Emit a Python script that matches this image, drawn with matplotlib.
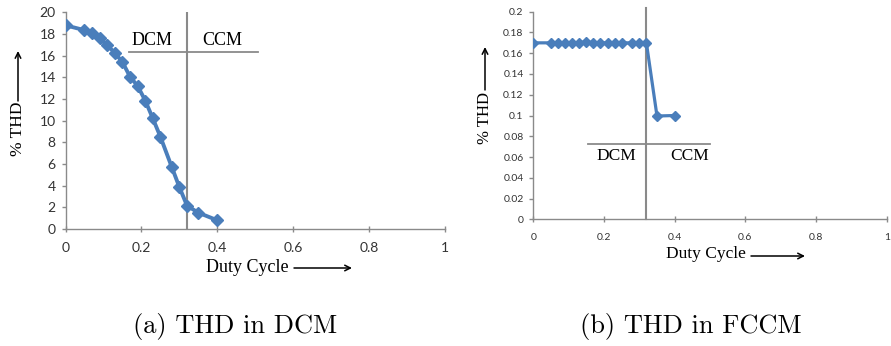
import matplotlib
matplotlib.use("Agg")
from matplotlib import pyplot as plt

# data
duty = [0.0, 0.05, 0.07, 0.09, 0.11, 0.13, 0.15, 0.17, 0.19, 0.21,
        0.23, 0.25, 0.28, 0.30, 0.32, 0.35, 0.40]
thd_dcm = [18.8, 18.35, 18.05, 17.6, 16.95, 16.25, 15.4, 14.05, 13.2, 11.85,
           10.2, 8.5, 5.7, 3.85, 2.15, 1.5, 0.8]
thd_fccm = [0.17, 0.17, 0.17, 0.17, 0.17, 0.17, 0.171, 0.17, 0.17, 0.17,
            0.17, 0.17, 0.17, 0.17, 0.17, 0.0995, 0.1]

x_ticks = [0, 0.2, 0.4, 0.6, 0.8, 1]
x_labels = ["0", "0.2", "0.4", "0.6", "0.8", "1"]
y_ticks_a = [0, 2, 4, 6, 8, 10, 12, 14, 16, 18, 20]
y_ticks_b = [0, 0.02, 0.04, 0.06, 0.08, 0.1, 0.12, 0.14, 0.16, 0.18, 0.2]
y_labels_b = ["0", "0.02", "0.04", "0.06", "0.08", "0.1", "0.12", "0.14",
              "0.16", "0.18", "0.2"]
boundary = 0.32

W, H = 891, 346
BLUE = "#4a7ebb"
GREY = "#8a8a8a"
SERIF = "Liberation Serif"
TICKFONT = "Lato"

fig = plt.figure(figsize=(W / 100, H / 100), dpi=100)


def px(x, y):
    return (x / W, 1 - y / H)


def style(ax, tick_size, xpad):
    for s in ["top", "right"]:
        ax.spines[s].set_visible(False)
    for s in ["left", "bottom"]:
        ax.spines[s].set_color(GREY)
        ax.spines[s].set_linewidth(1.0)
    ax.tick_params(length=3, width=1.0, color=GREY,
                   labelsize=tick_size, labelcolor="#333333")
    ax.tick_params(axis="x", direction="inout", length=5, pad=xpad)
    ax.tick_params(axis="y", direction="out", pad=4)
    for lab in ax.get_xticklabels() + ax.get_yticklabels():
        lab.set_family(TICKFONT)


def arrow(x0, y0, x1, y1):
    fig.add_artist(plt.Annotation("", xy=px(x1, y1), xytext=px(x0, y0),
                                  xycoords="figure fraction",
                                  textcoords="figure fraction",
                                  arrowprops=dict(arrowstyle="->", lw=1.1,
                                                  color="black",
                                                  shrinkA=0, shrinkB=0)))


# (a) THD in DCM
ax1 = fig.add_axes([65.5 / W, (H - 229) / H, 379.8 / W, 216.7 / H])
ax1.plot(duty, thd_dcm, color=BLUE, lw=2.8, marker="D", ms=6.5,
         solid_capstyle="round", zorder=3)
ax1.axvline(boundary, color=GREY, lw=1.5)
ax1.plot([0.168, 0.507], [16.33, 16.33], color=GREY, lw=1.3)
ax1.text(0.228, 16.6, "DCM", ha="center", va="bottom", fontsize=13, family=SERIF)
ax1.text(0.414, 16.6, "CCM", ha="center", va="bottom", fontsize=13, family=SERIF)
ax1.set_xlim(0, 1)
ax1.set_ylim(0, 20)
ax1.set_xticks(x_ticks, x_labels)
ax1.set_yticks(y_ticks_a, [str(v) for v in y_ticks_a])
style(ax1, 10, 7)

fig.text(*px(18, 129), "% THD", rotation=90, ha="center", va="center",
         fontsize=12.5, family=SERIF)
arrow(18, 101, 18, 51)
fig.text(*px(247, 267), "Duty Cycle", ha="center", va="center",
         fontsize=13, family=SERIF)
arrow(294, 268, 352, 268)

# (b) THD in FCCM
ax2 = fig.add_axes([533.3 / W, (H - 219.3) / H, 353.4 / W, 207.6 / H])
ax2.plot(duty, thd_fccm, color=BLUE, lw=2.3, marker="D", ms=5.5,
         solid_capstyle="round", zorder=3)
ax2.axvline(boundary, ymax=1.02, color=GREY, lw=1.5, clip_on=False)
ax2.plot([0.154, 0.5], [0.0725, 0.0725], color=GREY, lw=1.3)
ax2.text(0.236, 0.061, "DCM", ha="center", va="center", fontsize=12.5, family=SERIF)
ax2.text(0.443, 0.061, "CCM", ha="center", va="center", fontsize=12.5, family=SERIF)
ax2.set_xlim(0, 1)
ax2.set_ylim(0, 0.2)
ax2.set_xticks(x_ticks, x_labels)
ax2.set_yticks(y_ticks_b, y_labels_b)
style(ax2, 7.5, 7.5)

fig.text(*px(485, 118), "% THD", rotation=90, ha="center", va="center",
         fontsize=12, family=SERIF)
arrow(485, 90, 485, 47)
fig.text(*px(706, 254), "Duty Cycle", ha="center", va="center",
         fontsize=12.5, family=SERIF)
arrow(751, 256, 805, 256)

# captions
fig.text(*px(235.5, 326), "(a) THD in DCM", ha="center", va="center",
         fontsize=19, family="cmr10")
fig.text(*px(691, 326), "(b) THD in FCCM", ha="center", va="center",
         fontsize=19, family="cmr10")

fig.savefig("out.png", dpi=100)
